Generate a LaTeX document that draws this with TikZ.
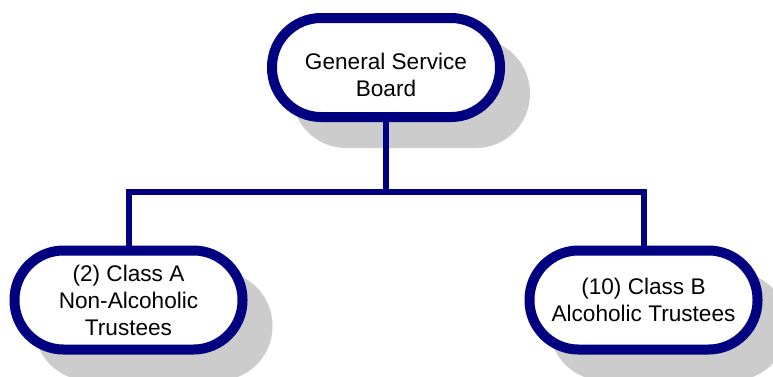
\documentclass[tikz,border=0pt]{standalone}
\usepackage{fontspec}
\setmainfont{Liberation Sans}
\definecolor{navy}{HTML}{000080}
\definecolor{shadowgray}{HTML}{CCCCCC}
\begin{document}
\begin{tikzpicture}[x=1pt,y=-1pt,
  board/.style={draw=navy, line width=10pt, fill=white, rounded corners=49pt,
    minimum width=228pt, minimum height=99pt, inner sep=0pt, align=center,
    font=\fontsize{22.6}{27}\selectfont},
  label text/.style={inner sep=0pt, align=center, font=\fontsize{22.6}{27}\selectfont},
  shade/.style={fill=shadowgray, rounded corners=54pt, minimum width=238pt,
    minimum height=109pt, inner sep=0pt},
  link/.style={draw=navy, line width=6pt}]
\useasboundingbox (0,0) rectangle (773,376);
% shadows
\node[shade] (gsbs) at (411,93.5) {};
\node[shade] (cas) at (153.5,326) {};
\node[shade] (cbs) at (668.5,326) {};
% boxes
\node[board] (gsb) at (386,67.5) {};
\node[label text] (gsbt) at (386,75) {General Service\\Board};
\node[board] (ca) at (128.5,300) {(2) Class A\\Non-Alcoholic\\Trustees};
\node[board] (cb) at (643.5,300) {(10) Class B\\Alcoholic Trustees};
% connectors
\coordinate (j) at (386,192);
\draw[link] (gsb.south) -- (j);
\draw[link] (ca.north) |- (j) -| (cb.north);
\end{tikzpicture}
\end{document}
